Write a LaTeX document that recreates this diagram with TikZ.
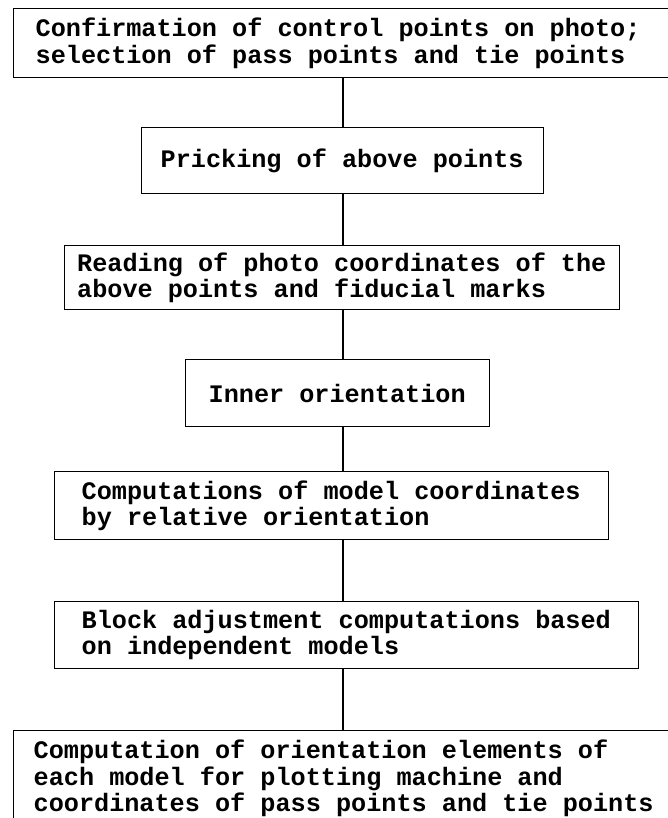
\documentclass[tikz,border=0pt]{standalone}
\usepackage{fontspec}
\setmonofont{Liberation Mono}
\newcommand{\stepfont}{\ttfamily\bfseries\fontsize{25.2}{26.5}\selectfont}
\begin{document}
\begin{tikzpicture}[x=1pt, y=-1pt,
  box/.style={draw, line width=1.3pt, anchor=north west, align=flush left, inner ysep=0pt, font=\stepfont},
  link/.style={line width=2.6pt}]
\useasboundingbox (0,0) rectangle (668,818);
\coordinate (axis) at (343,0);
% control points
\node[box, text width=643pt, inner xsep=22pt, minimum height=69pt] (confirm) at (13,8)
  {Confirmation of control points on photo;\\selection of pass points and tie points};
% pricking
\node[box, text width=364pt, inner xsep=19pt, minimum height=66pt] (pricking) at (141,127)
  {Pricking of above points};
% photo coordinates
\node[box, text width=530pt, inner xsep=12.5pt, minimum height=64pt] (reading) at (64,245)
  {Reading of photo coordinates of the\\above points and fiducial marks};
% inner orientation
\node[box, text width=258pt, inner xsep=23pt, minimum height=67pt] (inner) at (185,359)
  {Inner orientation};
% relative orientation
\node[box, text width=500pt, inner xsep=27pt, minimum height=68pt] (relative) at (54,471)
  {Computations of model coordinates\\by relative orientation};
% block adjustment
\node[box, text width=530pt, inner xsep=27pt, minimum height=67pt] (block) at (54,601)
  {Block adjustment computations based\\on independent models};
% orientation elements
\node[box, text width=640pt, inner xsep=20pt, minimum height=96pt] (elements) at (13,730)
  {Computation of orientation elements of\\each model for plotting machine and\\coordinates of pass points and tie points};
% connectors
\draw[link] (confirm.south -| axis) -- (pricking.north -| axis);
\draw[link] (pricking.south -| axis) -- (reading.north -| axis);
\draw[link] (reading.south -| axis) -- (inner.north -| axis);
\draw[link] (inner.south -| axis) -- (relative.north -| axis);
\draw[link] (relative.south -| axis) -- (block.north -| axis);
\draw[link] (block.south -| axis) -- (elements.north -| axis);
\end{tikzpicture}
\end{document}
